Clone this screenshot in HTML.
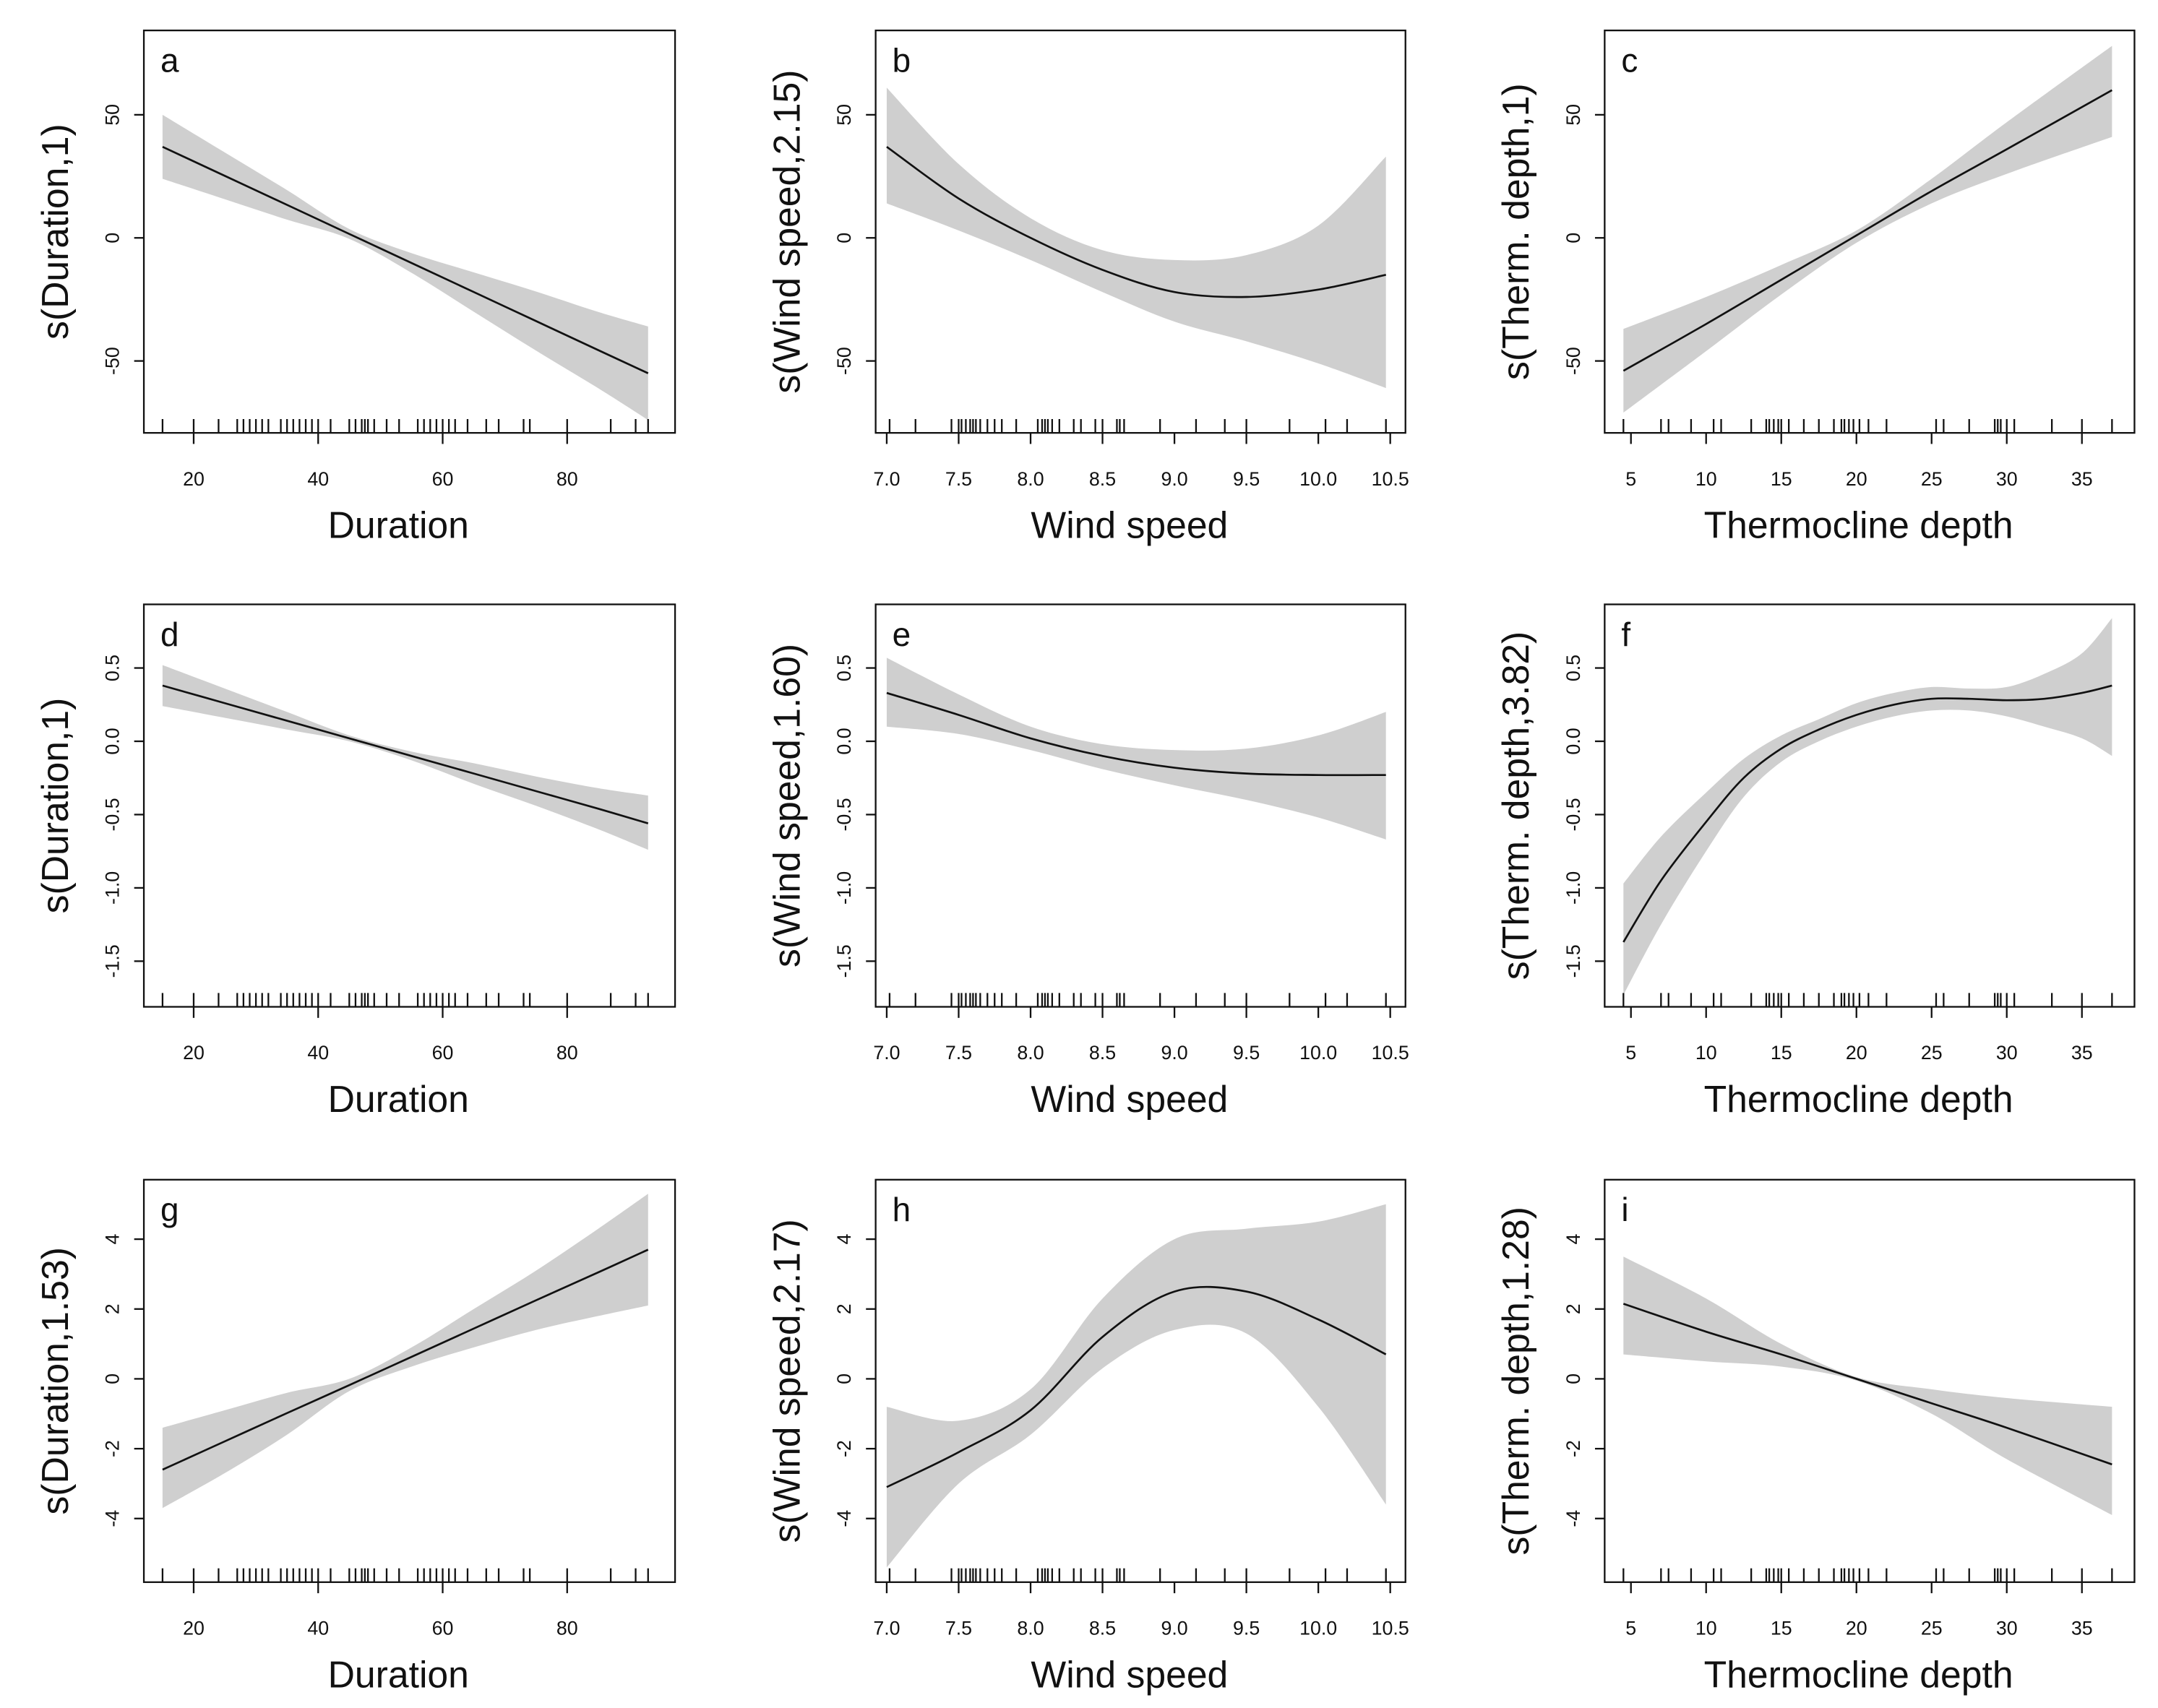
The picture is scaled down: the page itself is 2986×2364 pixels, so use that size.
<!DOCTYPE html>
<html><head><meta charset="utf-8"><style>
html,body{margin:0;padding:0;background:#fff;}
svg{display:block;}
text{font-family:"Liberation Sans",Arial,sans-serif;fill:#111;}
</style></head><body>
<svg id="fig" width="2986" height="2364" viewBox="0 0 1560 1235" preserveAspectRatio="none" xmlns="http://www.w3.org/2000/svg"></svg>
<script>
// ---- data ----
const durX = [15,25,35,45,55,65,75,85,93];
const windX = [7.0,7.5,8.0,8.5,9.0,9.5,10.0,10.47];
const thermX = [4.5,10,15,20,25,30,37];
const thermXf = [4.5,7,10,12.5,15,17.5,20,22.5,25,27.5,30,32.5,35,37];

const aFit = [37,25.2,13.4,1.6,-10.2,-22,-33.8,-45.6,-55];
const aUp  = [50,34.7,19.4,3.6,-6.2,-14,-21.8,-30.1,-36];
const aLo  = [24,15.7,7.4,-0.4,-14.2,-30,-45.8,-61.1,-74];
const bFit = [37,16,0,-13,-22,-24,-21,-15];
const bUp  = [61,30,8,-5,-9,-7,5,33];
const bLo  = [14,3,-9,-22,-34,-42,-51,-61];
const cFit = [-54,-35,-17,1,19,36,60];
const cUp  = [-37,-24,-11,3,24,47,78];
const cLo  = [-71,-46,-23,-2,14,26,41];
const dFit = [0.38,0.26,0.14,0.02,-0.10,-0.22,-0.34,-0.46,-0.56];
const dUp  = [0.52,0.36,0.2,0.04,-0.07,-0.15,-0.24,-0.32,-0.37];
const dLo  = [0.24,0.16,0.08,0.0,-0.13,-0.29,-0.44,-0.6,-0.74];
const eFit = [0.33,0.18,0.02,-0.1,-0.18,-0.22,-0.23,-0.23];
const eUp  = [0.57,0.32,0.1,-0.02,-0.06,-0.05,0.04,0.2];
const eLo  = [0.1,0.05,-0.06,-0.19,-0.3,-0.4,-0.52,-0.67];
const fFit = [-1.37,-0.95,-0.55,-0.25,-0.05,0.08,0.18,0.25,0.29,0.29,0.28,0.29,0.33,0.38];
const fUp  = [-0.97,-0.65,-0.35,-0.12,0.04,0.15,0.26,0.33,0.37,0.36,0.37,0.46,0.6,0.84];
const fLo  = [-1.73,-1.25,-0.75,-0.38,-0.14,0.0,0.1,0.17,0.21,0.21,0.17,0.1,0.02,-0.1];
const gFit = [-2.6,-1.79,-0.98,-0.18,0.63,1.44,2.25,3.05,3.7];
const gUp  = [-1.4,-0.9,-0.4,0.0,0.9,2.0,3.1,4.3,5.3];
const gLo  = [-3.7,-2.7,-1.6,-0.35,0.35,0.9,1.4,1.8,2.1];
const hFit = [-3.1,-2.1,-0.9,1.2,2.5,2.5,1.7,0.7];
const hUp  = [-0.8,-1.2,-0.3,2.3,4.0,4.3,4.5,5.0];
const hLo  = [-5.4,-3.0,-1.6,0.3,1.4,1.3,-0.8,-3.6];
const iFit = [2.15,1.35,0.7,0,-0.7,-1.4,-2.45];
const iUp  = [3.5,2.3,1.0,0.05,-0.3,-0.55,-0.8];
const iLo  = [0.7,0.5,0.35,-0.05,-1.0,-2.3,-3.9];

const durRug = [15,20,24,27,28,29,30,31,32,34,35,36,37,38,39,40,42,45,46,47,47.5,48,49,51,53,56,57,58,59,60,61,62,64,67,69,73,74,80,87,91,93];
const windRug = [7.02,7.2,7.45,7.5,7.52,7.55,7.58,7.6,7.62,7.65,7.7,7.75,7.8,7.9,8.05,8.08,8.1,8.12,8.15,8.2,8.3,8.35,8.45,8.5,8.6,8.62,8.65,8.9,9.15,9.35,9.5,9.8,10.05,10.2,10.47];
const thermRug = [4.5,7,7.5,9,10.5,11,13,14,14.2,14.5,14.8,15,15.5,16.5,17.5,18.5,19,19.2,19.5,19.8,20.2,20.8,22,25.3,25.8,27.5,29.2,29.4,29.6,30,30.5,33,35,37];

const durTicks = [20,40,60,80];
const durTickLabels = ["20","40","60","80"];
const windTicks = [7.0,7.5,8.0,8.5,9.0,9.5,10.0,10.5];
const windTickLabels = ["7.0","7.5","8.0","8.5","9.0","9.5","10.0","10.5"];
const thermTicks = [5,10,15,20,25,30,35];
const thermTickLabels = ["5","10","15","20","25","30","35"];
const yTicks1 = [50,0,-50];
const yTickLabels1 = ["50","0","-50"];
const yTicks2 = [0.5,0,-0.5,-1,-1.5];
const yTickLabels2 = ["0.5","0.0","-0.5","-1.0","-1.5"];
const yTicks3 = [4,2,0,-2,-4];
const yTickLabels3 = ["4","2","0","-2","-4"];

// ---- layout ----
const svg = document.getElementById('fig');
const NS = 'http://www.w3.org/2000/svg';
function mk(tag, attrs, parent){const e=document.createElementNS(NS,tag);for(const k in attrs)e.setAttribute(k,attrs[k]);(parent||svg).appendChild(e);return e;}
const cols = [[104,488],[633,1016],[1160,1543]];
const rows = [[22,313],[437,728],[853,1144]];
const xScales = [
  {ticks:durTicks, labels:durTickLabels, rug:durRug, x:v=>140+(v-20)*4.5, title:"Duration"},
  {ticks:windTicks, labels:windTickLabels, rug:windRug, x:v=>641+(v-7)*104, title:"Wind speed"},
  {ticks:thermTicks, labels:thermTickLabels, rug:thermRug, x:v=>1179+(v-5)*10.867, title:"Thermocline depth"}
];
const yScales = [
  {ticks:yTicks1, labels:yTickLabels1, y:v=>172-v*1.78},
  {ticks:yTicks2, labels:yTickLabels2, y:v=>536-v*106},
  {ticks:yTicks3, labels:yTickLabels3, y:v=>997-v*25.25}
];
const panels = [
  {r:0,c:0,l:'a',yt:'s(Duration,1)',xs:durX,fit:aFit,up:aUp,lo:aLo},
  {r:0,c:1,l:'b',yt:'s(Wind speed,2.15)',xs:windX,fit:bFit,up:bUp,lo:bLo},
  {r:0,c:2,l:'c',yt:'s(Therm. depth,1)',xs:thermX,fit:cFit,up:cUp,lo:cLo},
  {r:1,c:0,l:'d',yt:'s(Duration,1)',xs:durX,fit:dFit,up:dUp,lo:dLo},
  {r:1,c:1,l:'e',yt:'s(Wind speed,1.60)',xs:windX,fit:eFit,up:eUp,lo:eLo},
  {r:1,c:2,l:'f',yt:'s(Therm. depth,3.82)',xs:thermXf,fit:fFit,up:fUp,lo:fLo},
  {r:2,c:0,l:'g',yt:'s(Duration,1.53)',xs:durX,fit:gFit,up:gUp,lo:gLo},
  {r:2,c:1,l:'h',yt:'s(Wind speed,2.17)',xs:windX,fit:hFit,up:hUp,lo:hLo},
  {r:2,c:2,l:'i',yt:'s(Therm. depth,1.28)',xs:thermX,fit:iFit,up:iUp,lo:iLo}
];
function smooth(pts){ // catmull-rom
  let d='M'+pts[0][0]+','+pts[0][1];
  for(let i=0;i<pts.length-1;i++){
    const p0=pts[Math.max(0,i-1)],p1=pts[i],p2=pts[i+1],p3=pts[Math.min(pts.length-1,i+2)];
    const c1=[p1[0]+(p2[0]-p0[0])/6,p1[1]+(p2[1]-p0[1])/6];
    const c2=[p2[0]-(p3[0]-p1[0])/6,p2[1]-(p3[1]-p1[1])/6];
    d+=' C'+c1[0]+','+c1[1]+' '+c2[0]+','+c2[1]+' '+p2[0]+','+p2[1];
  }
  return d;
}
panels.forEach(p=>{
  const [L,R]=cols[p.c],[T,B]=rows[p.r];
  const xs=xScales[p.c], ys=yScales[p.r];
  const g=mk('g',{});
  
  
  // band
  const up=p.xs.map((v,i)=>[xs.x(v),ys.y(p.up[i])]);
  const lo=p.xs.map((v,i)=>[xs.x(v),ys.y(p.lo[i])]).reverse();
  const loPath=smooth(lo).replace(/^M/,' L');
  const band=mk('path',{d:smooth(up)+loPath+' Z',fill:'#cfcfcf',stroke:'none'},g);
  
  
  const fit=mk('path',{d:smooth(p.xs.map((v,i)=>[xs.x(v),ys.y(p.fit[i])])),fill:'none',stroke:'#111','stroke-width':1.4},g);
  
  
  // box
  const box=mk('rect',{x:L,y:T,width:R-L,height:B-T,fill:'none',stroke:'#111','stroke-width':1.2},g);
  
  
  // rug
  xs.rug.forEach(v=>{
    const r=mk('line',{x1:xs.x(v),x2:xs.x(v),y1:B-10,y2:B,stroke:'#111','stroke-width':1.2},g);
    
    
  });
  // x ticks
  xs.ticks.forEach((v,i)=>{
    mk('line',{x1:xs.x(v),x2:xs.x(v),y1:B,y2:B+8,stroke:'#111','stroke-width':1.2},g);
    const t=mk('text',{x:xs.x(v),y:B+38,'text-anchor':'middle','font-size':14},g);
    t.textContent=xs.labels[i];
    
    
  });
  // y ticks
  ys.ticks.forEach((v,i)=>{
    const y=ys.y(v);
    mk('line',{x1:L-7,x2:L,y1:y,y2:y,stroke:'#111','stroke-width':1.2},g);
    const t=mk('text',{x:0,y:0,'text-anchor':'middle','font-size':14,transform:`translate(${L-18},${y}) rotate(-90)`},g);
    t.textContent=ys.labels[i];
    
    
  });
  const xt=mk('text',{x:(L+R)/2-8,y:B+76,'text-anchor':'middle','font-size':27},g);
  xt.textContent=xs.title;
  
  
  const yt=mk('text',{x:0,y:0,'text-anchor':'middle','font-size':27,transform:`translate(${L-55},${(T+B)/2}) rotate(-90)`},g);
  yt.textContent=p.yt;
  
  
  const lt=mk('text',{x:L+12,y:T+30,'font-size':24},g);
  lt.textContent=p.l;
  
  
});
</script>
</body></html>
